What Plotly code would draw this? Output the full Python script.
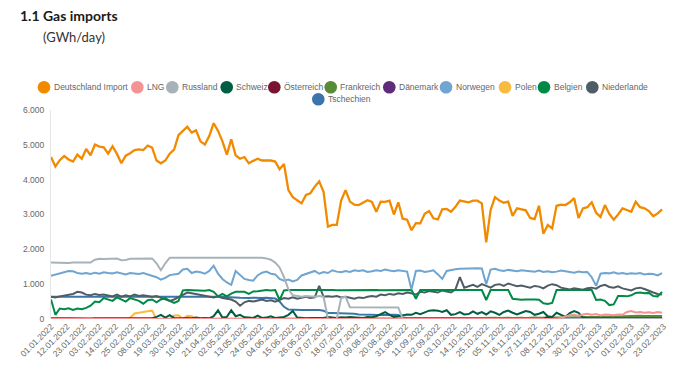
import pandas as pd
import plotly.graph_objects as go

# ---------------- data (GWh/day), one value every 3 days from 01.01.2022 ----------------
start_date = "2022-01-01"
step = "3D"

deutschland_import = [
    4650, 4380, 4560, 4680, 4580, 4520, 4720, 4600, 4880, 4700,
    5010, 4950, 4930, 4750, 4960, 4740, 4470, 4690, 4760, 4850,
    4870, 4850, 4980, 4920, 4550, 4470, 4550, 4745, 4860, 5280,
    5400, 5520, 5350, 5415, 5100, 5010, 5250, 5620, 5400, 5100,
    4720, 5160, 4700, 4600, 4650, 4470, 4540, 4600, 4550, 4560,
    4550, 4520, 4300, 4450, 3700, 3500, 3420, 3320, 3560, 3610,
    3800, 3950, 3650, 2650, 2700, 2700, 3400, 3700, 3370, 3280,
    3270, 3330, 3410, 3360, 3080, 3370, 3360, 3400, 3000, 3350,
    2880, 2850, 2550, 2750, 2745, 3020, 3100, 2890, 2860, 3150,
    3160, 3080, 3220, 3400, 3380, 3350, 3396, 3396, 3320, 2200,
    3130, 3500, 3400, 3338, 3367, 2960, 3176, 3150, 3120, 2900,
    2870, 3250, 2450, 2700, 2600, 3250, 3280, 3271, 3350, 3470,
    2900, 3176, 3210, 3350, 3050, 2930, 3271, 3014, 2850, 3000,
    3176, 3130, 3080, 3367, 3210, 3176, 3100, 2950, 3033, 3147,
]
lng = [
    0, 0, 0, 0, 0, 0, 0, 0, 0, 0, 0, 0, 0, 0, 0, 0, 0, 0, 0, 0,
    0, 0, 0, 0, 0, 0, 0, 0, 0, 0, 0, 0, 0, 0, 0, 0, 0, 0, 0, 0,
    0, 0, 0, 0, 0, 0, 0, 0, 0, 0, 0, 0, 0, 0, 0, 0, 0, 0, 0, 0,
    0, 0, 0, 0, 0, 0, 0, 0, 0, 0, 0, 0, 0, 0, 0, 0, 0, 0, 0, 0,
    0, 0, 0, 0, 0, 0, 0, 0, 0, 0, 0, 0, 0, 0, 0, 0, 0, 0, 0, 0,
    0, 0, 0, 0, 0, 0, 0, 0, 0, 0,
    0, 0, 0, 0, 0, 0, 30, 80, 110, 120,
    90, 130, 150, 120, 140, 100, 130, 120, 110, 130,
    120, 200, 230, 190, 200, 180, 190, 170, 200, 180,
]
russland = [
    1620, 1615, 1625, 1620, 1610, 1620, 1625, 1620, 1615, 1620,
    1700, 1730, 1725, 1730, 1720, 1735, 1690, 1695, 1730, 1735,
    1740, 1730, 1735, 1740, 1600, 1400, 1600, 1760, 1760, 1765,
    1760, 1760, 1755, 1760, 1765, 1760, 1760, 1755, 1760, 1760,
    1760, 1765, 1760, 1755, 1760, 1765, 1760, 1755, 1760, 1740,
    1700, 1620, 1480, 1200, 850, 680, 660, 640, 660, 650,
    640, 660, 640, 0, 0, 0, 600, 640, 340, 340,
    340, 335, 340, 330, 335, 340, 335, 330, 335, 330,
    0, 0, 0, 0, 0, 0, 0, 0, 0, 0, 0, 0, 0, 0, 0, 0, 0, 0, 0, 0,
    0, 0, 0, 0, 0, 0, 0, 0, 0, 0, 0, 0, 0, 0, 0, 0, 0, 0, 0, 0,
    0, 0, 0, 0, 0, 0, 0, 0, 0, 0, 0, 0, 0, 0, 0, 0, 0, 0, 0, 0,
]
schweiz = [
    20, 15, 20, 20, 25, 20, 15, 20, 20, 15,
    20, 20, 15, 20, 25, 20, 20, 15, 20, 20,
    20, 15, 20, 20, 60, 120, 40, 110, 30, 20,
    20, 30, 20, 40, 20, 30, 20, 80, 250, 40,
    60, 250, 80, 120, 50, 40, 30, 100, 30, 40,
    80, 30, 40, 60, 120, 230, 40, 20, 20, 30,
    30, 40, 30, 60, 40, 30, 50, 40, 60, 50,
    40, 30, 60, 50, 80, 150, 200, 120, 60, 80,
    100, 130, 120, 180, 140, 200, 240, 250, 240, 200,
    250, 120, 140, 200, 130, 140, 220, 150, 200, 130,
    220, 180, 120, 200, 240, 180, 130, 180, 230, 200,
    120, 150, 200, 80, 60, 180, 120, 60, 170, 230,
    180, 40, 20, 20, 25, 20, 20, 15, 20, 20,
    20, 20, 15, 20, 20, 25, 20, 20, 15, 20,
]
oesterreich = [
    0, 0, 0, 0, 0, 0, 0, 0, 0, 0, 0, 0, 0, 0, 0, 0, 0, 0, 0, 0,
    0, 0, 0, 0, 0, 0, 0, 0, 0, 0, 0, 0, 0, 0, 0, 0, 0, 0, 0, 0,
    0, 0, 0, 0, 0, 0, 0, 0, 0, 0, 0, 0, 0, 0, 0, 0, 0, 0, 0, 0,
    0, 0, 0, 0, 0, 0, 0, 0, 0, 0, 0, 0, 0, 0, 0, 0, 0, 0, 0, 0,
    0, 0, 0, 0, 0, 0, 0, 0, 0, 0, 0, 0, 0, 0, 0, 0, 0, 0, 0, 0,
    0, 0, 0, 0, 0, 0, 0, 0, 0, 0,
    0, 0, 0, 60, 0, 0, 0, 0, 0, 0,
    0, 0, 0, 0, 0, 0, 0, 0, 0, 0,
    0, 0, 0, 0, 0, 0, 0, 0, 0, 0,
]
frankreich = [
    0, 0, 0, 0, 0, 0, 0, 0, 0, 0, 0, 0, 0, 0, 0, 0, 0, 0, 0, 0,
    0, 0, 0, 0, 0, 0, 0, 0, 0, 0, 0, 0, 0, 0, 0, 0, 0, 0, 0, 0,
    0, 0, 0, 0, 0, 0, 0, 0, 0, 0, 0, 0, 0, 0, 0, 0, 0, 0, 0, 0,
    0, 0, 0, 0, 0, 0, 0, 0, 0, 0, 0, 0, 0, 0, 0, 0, 0, 0, 0, 0,
    0, 0, 0, 0, 0, 0, 0, 0, 0, 0,
    0, 0, 0, 0, 20, 25, 30, 25, 30, 30,
    30, 35, 30, 40, 35, 30, 40, 35, 30, 40,
    40, 35, 40, 45, 40, 50, 45, 40, 50, 45,
    50, 55, 50, 60, 55, 60, 65, 60, 70, 75,
    80, 85, 80, 85, 90, 85, 80, 85, 80, 85,
]
daenemark = [
    0, 0, 0, 0, 0, 0, 0, 0, 0, 0, 0, 0, 0, 0, 0, 0, 0, 0, 0, 0,
    0, 0, 0, 0, 0, 0, 0, 0, 0, 0, 0, 0, 0, 0, 0, 0, 0, 0, 0, 0,
    0, 0, 0, 0, 0, 0, 0, 0, 0, 0, 0, 0, 0, 0, 0, 0, 0, 0, 0, 0,
    0, 0, 0, 0, 0, 0, 0, 0, 0, 0, 0, 0, 0, 0, 0, 0, 0, 0, 0, 0,
    0, 0, 0, 0, 0, 0, 0, 0, 0, 0, 0, 0, 0, 0, 0, 0, 0, 0, 0, 0,
    0, 0, 0, 0, 0, 0, 0, 0, 0, 0, 0, 0, 0, 0, 0, 0, 0, 0, 0, 0,
    0, 0, 0, 0, 0, 0, 0, 0, 0, 0, 0, 0, 0, 0, 0, 0, 0, 0, 0, 0,
]
norwegen = [
    1240, 1270, 1300, 1330, 1380, 1370, 1320, 1300, 1320, 1290,
    1330, 1300, 1340, 1320, 1310, 1340, 1300, 1280, 1320, 1300,
    1290, 1320, 1280, 1250, 1200, 1130, 1180, 1260, 1280, 1300,
    1420, 1440, 1320, 1360, 1340, 1300, 1380, 1530, 1300, 1150,
    1050, 980, 1380, 1250, 1150, 1120, 1100, 1250, 1330, 1360,
    1300, 1280, 1150, 1100, 1130, 1080, 1120, 1250, 1300, 1350,
    1380, 1300, 1350, 1320, 1400, 1360, 1340, 1380, 1350, 1400,
    1380, 1400, 1350, 1370, 1400, 1380, 1420, 1390, 1370, 1400,
    1380, 1360, 850, 1380, 1390, 1350, 1370, 1400, 1280, 1150,
    1380, 1410, 1430, 1440, 1450, 1440, 1450, 1460, 1450, 1000,
    1420, 1440, 1400, 1380, 1410, 1390, 1370, 1400, 1380, 1370,
    1360, 1390, 1350, 1370, 1340, 1360, 1390, 1370, 1350, 1330,
    1360, 1340, 1350, 1200, 950, 1300, 1320, 1310, 1340, 1300,
    1320, 1290, 1310, 1300, 1320, 1280, 1300, 1290, 1250, 1320,
]
polen = [
    0, 0, 0, 0, 0, 0, 0, 0, 0, 0,
    0, 0, 0, 0, 0, 0, 0, 0, 40, 160,
    180, 190, 220, 240, 0, 0, 0, 0, 100, 110,
    0, 90, 80, 0, 0, 0, 0, 0, 0, 0,
    0, 0, 0, 0, 0, 0, 0, 0, 0, 0, 0, 0, 0, 0, 0, 0, 0, 0, 0, 0,
    0, 0, 0, 0, 0, 0, 0, 0, 0, 0, 0, 0, 0, 0, 0, 0, 0, 0, 0, 0,
    0, 0, 0, 0, 0, 0, 0, 0, 0, 0, 0, 0, 0, 0, 0, 0, 0, 0, 0, 0,
    0, 0, 0, 0, 0, 0, 0, 0, 0, 0, 0, 0, 0, 0, 0, 0, 0, 0, 0, 0,
    0, 0, 0, 0, 0, 0, 0, 0, 0, 0, 0, 0, 0, 0, 0, 0, 0, 0, 0, 0,
]
belgien = [
    560, 120, 300, 280, 310, 260, 300, 280, 320, 380,
    500, 480, 600, 560, 520, 620, 560, 500, 600, 560,
    520, 440, 540, 560, 480, 560, 600, 520, 460, 520,
    820, 830, 820, 830, 820, 810, 830, 780, 650, 720,
    650, 730, 780, 790, 780, 720, 790, 800, 820, 830,
    820, 830, 545, 820, 830, 832, 828, 835, 830, 832,
    832, 830, 835, 830, 832, 828, 830, 835, 832, 830,
    832, 830, 835, 830, 832, 828, 830, 835, 832, 830,
    832, 830, 835, 580, 830, 832, 828, 830, 835, 832,
    830, 835, 832, 830, 828, 832, 835, 830, 832, 545,
    832, 830, 835, 832, 830, 580, 560, 550, 560, 570,
    560, 550, 450, 430, 460, 832, 830, 835, 832, 830,
    832, 830, 835, 832, 545, 560, 520, 400, 420, 660,
    660, 650, 680, 750, 760, 740, 750, 660, 650, 780,
]
niederlande = [
    640, 620, 650, 680, 700, 720, 780, 760, 700, 680,
    720, 690, 700, 680, 650, 700, 640, 680, 650, 700,
    660, 680, 650, 640, 660, 620, 580, 520, 560, 620,
    700, 760, 740, 720, 700, 680, 640, 620, 650, 600,
    580, 560, 500, 380, 480, 520, 500, 540, 560, 520,
    540, 500, 560, 600, 580, 620, 580, 600, 640, 600,
    620, 950, 640, 650, 640, 660, 620, 640, 600, 580,
    620, 600, 640, 660, 640, 700, 680, 720, 700, 740,
    720, 760, 740, 700, 780, 760, 800, 780, 760, 820,
    800, 760, 850, 1200, 900, 950, 980, 920, 1000, 950,
    900, 980, 1000, 950, 1020, 980, 940, 960, 920, 900,
    950, 930, 880, 960, 1000, 970, 900, 880, 850, 880,
    860, 840, 880, 900, 870, 950, 980, 920, 900, 940,
    880, 850, 820, 880, 900, 860, 800, 760, 720, 700,
]
tschechien = [
    640, 645, 640, 638, 642, 640, 645, 640, 638, 640,
    640, 642, 638, 640, 645, 640, 638, 640, 642, 640,
    640, 645, 640, 638, 642, 640, 645, 640, 638, 640,
    640, 642, 638, 640, 645, 640, 638, 640, 642, 640,
    640, 630, 620, 610, 600, 600, 610, 600, 600, 610,
    600, 590, 500, 350, 270, 260, 255, 260, 258, 260,
    255, 260, 240, 170, 170, 165, 170, 168, 160, 150,
    130, 120, 118, 120, 115, 120, 118, 115, 120, 115,
    40, 30, 30, 25, 30, 30, 25, 30, 30, 25,
    20, 25, 20, 20, 25, 20, 20, 25, 20, 20,
    20, 25, 20, 20, 25, 20, 20, 25, 20, 20,
    20, 25, 20, 20, 25, 20, 20, 25, 20, 20,
    20, 25, 20, 20, 25, 20, 20, 25, 20, 20,
    20, 25, 20, 20, 25, 20, 20, 25, 20, 20,
]

series_names = ["Deutschland Import", "LNG", "Russland", "Schweiz", "Österreich",
                "Frankreich", "Dänemark", "Norwegen", "Polen", "Belgien",
                "Niederlande", "Tschechien"]
series_values = [deutschland_import, lng, russland, schweiz, oesterreich,
                 frankreich, daenemark, norwegen, polen, belgien,
                 niederlande, tschechien]
series_colors = ["#F28A00", "#F59393", "#A7B2B9", "#005E43", "#7A1332",
                 "#578B36", "#5E2C78", "#6FA5D0", "#F9BB3E", "#008A45",
                 "#4E5D65", "#3B75A9"]

tick_dates = pd.date_range("2022-01-01", "2023-02-23", freq="11D")
tick_labels = [d.strftime("%d.%m.%Y") for d in tick_dates]

# ---------------- layout geometry (page pixels) ----------------
PAGE_W, PAGE_H = 679, 383
BODY = 8                      # default body margin of the html page
PL, PR, PT, PB = 51, 665, 110, 319   # plot area on the page
FIG_W, FIG_H = PAGE_W - BODY, PAGE_H - BODY
PW, PH = PR - PL, PB - PT


def px(x):
    return (x - PL) / PW


def py(y):
    return (PB - y) / PH


# legend entries: circle centres on the page (x) and row centre (y)
legend_x = [44, 137.3, 172.3, 226.7, 274.3, 330.7, 389.3, 446, 505, 544, 592.3, 318.3]
legend_y = [87.3] * 11 + [99.3]
legend_r = 6.3

# ---------------- figure ----------------
fig = go.Figure()
# earlier series are drawn on top in the original, so add in reverse order
for name, vals, col in reversed(list(zip(series_names, series_values, series_colors))):
    x = pd.date_range(start_date, periods=len(vals), freq=step)
    fig.add_trace(go.Scatter(
        x=x, y=vals, name=name, mode="lines",
        line=dict(color=col, width=2.3 if name == "Deutschland Import" else 2),
        showlegend=False,
        hovertemplate="%{x|%d.%m.%Y}: %{y:,.0f}<extra>" + name + "</extra>",
    ))

shapes = []
annotations = [
    dict(text="(GWh/day)", xref="paper", yref="paper",
         x=px(41), y=py(37), xanchor="left", yanchor="middle", showarrow=False,
         font=dict(family="Lato, sans-serif", size=13, color="#333333")),
]
for name, col, cx, cy in zip(series_names, series_colors, legend_x, legend_y):
    shapes.append(dict(type="circle", xref="paper", yref="paper",
                       x0=px(cx - legend_r), x1=px(cx + legend_r),
                       y0=py(cy + legend_r), y1=py(cy - legend_r),
                       fillcolor=col, line=dict(width=0)))
    annotations.append(dict(text=name, xref="paper", yref="paper",
                            x=px(cx + 7.5), y=py(cy), xanchor="left", yanchor="middle",
                            showarrow=False,
                            font=dict(family="Liberation Sans, Arial, sans-serif",
                                      size=8.5, color="#666666")))

fig.update_layout(
    width=FIG_W, height=FIG_H,
    margin=dict(l=PL - BODY, r=FIG_W - (PR - BODY), t=PT - BODY, b=FIG_H - (PB - BODY),
                autoexpand=False),
    paper_bgcolor="white", plot_bgcolor="white",
    separators=",.",
    showlegend=False,
    font=dict(family="Liberation Sans, Arial, sans-serif", size=9, color="#666666"),
    title=dict(text="<b>1.1 Gas imports</b>", xref="container", yref="container",
               x=(20 - BODY) / FIG_W, y=1 - (16 - BODY) / FIG_H,
               xanchor="left", yanchor="middle", pad=dict(l=0, r=0, t=0, b=0),
               font=dict(family="Lato, sans-serif", size=14, color="#1a1a1a")),
    annotations=annotations,
    shapes=shapes,
)
fig.update_xaxes(
    type="date", range=["2022-01-01", "2023-02-24"],
    tickvals=list(tick_dates), ticktext=tick_labels, tickangle=-45,
    tickfont=dict(size=8.5, color="#666666"),
    showgrid=False, zeroline=False, showline=False, ticks="", automargin=False,
)
fig.update_yaxes(
    range=[0, 6000], tickvals=[0, 1000, 2000, 3000, 4000, 5000, 6000],
    tickformat=",.0f", tickfont=dict(size=8.5, color="#666666"),
    showgrid=False, zeroline=False, showline=True, linecolor="#e6e6e6", linewidth=1,
    ticks="", ticklabelstandoff=4, automargin=False,
)

fig.write_html("out.html")
